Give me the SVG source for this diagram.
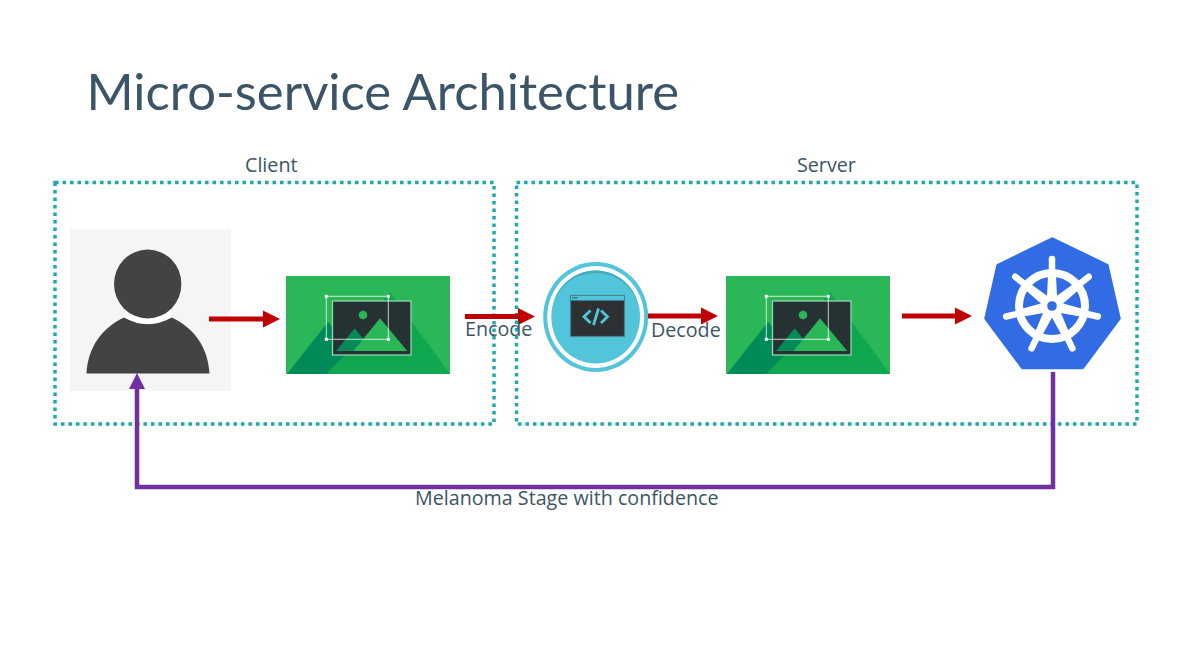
<svg xmlns="http://www.w3.org/2000/svg" xmlns:xlink="http://www.w3.org/1999/xlink" width="1188" height="656" viewBox="0 0 1188 656">
<style>
.t{font-family:"Open Sans","Liberation Sans",sans-serif;font-size:19.700px;fill:#3b5566}
.title{font-family:Lato,"Liberation Sans",sans-serif;font-size:50.800px;fill:#3b5566}
.box{fill:none;stroke:#1fa8b3;stroke-width:3.5;stroke-dasharray:3.6 3.9}
.red{stroke:#c00000;stroke-width:5;fill:none}
.pur{stroke:#7030a0;stroke-width:4.5;fill:none}
</style>
<defs>
<marker id="ar" markerUnits="userSpaceOnUse" markerWidth="17" markerHeight="18" refX="0" refY="9" orient="auto"><path d="M0 0.5L17 9L0 17.5Z" fill="#c00000"/></marker>
<marker id="ap" markerUnits="userSpaceOnUse" markerWidth="17" markerHeight="18" refX="0" refY="9" orient="auto"><path d="M0 1L16 9L0 17Z" fill="#7030a0"/></marker>
<g id="pic">
<rect x="286" y="276" width="164" height="98" fill="#2bb658"/>
<path d="M326 374L390 292L450 374Z" fill="#0fa750"/>
<path d="M287 374L328 322L373 374Z" fill="#008a58"/>
<path d="M326 374L370 330L390 374Z" fill="#0fa750"/>
<rect x="332.500" y="301" width="78.500" height="54" fill="#263133" stroke="#8fd8ae" stroke-width="1.300"/>
<circle cx="363" cy="315" r="4.300" fill="#2bb658"/>
<path d="M336 351L354.700 328.300L373 351Z" fill="#008a58"/>
<path d="M353.300 351L380 318.300L407.300 351Z" fill="#2bb658"/>
<rect x="326.300" y="296.300" width="62" height="43" fill="none" stroke="#fff" stroke-opacity=".75" stroke-width="1"/>
<g fill="#fff"><rect x="324.800" y="294.800" width="3" height="3"/><rect x="386.800" y="294.800" width="3" height="3"/><rect x="324.800" y="337.800" width="3" height="3"/><rect x="386.800" y="337.800" width="3" height="3"/></g>
</g>
<g id="spoke"><line x1="1052" y1="306" x2="1052" y2="259" stroke="#fff" stroke-width="6.500" stroke-linecap="round"/><path d="M1046.500 306L1048 276H1056L1057.500 306Z" fill="#fff"/></g>
</defs>
<text class="title" x="86.500" y="110">Micro-service Architecture</text>
<g id="client"><rect class="box" x="55" y="182.500" width="439" height="241.500"/><text class="t" x="245" y="172">Client</text></g>
<g id="server"><rect class="box" x="516.500" y="182.500" width="620.500" height="241.500"/><text class="t" x="797" y="172">Server</text></g>
<g id="user">
<rect x="70" y="229" width="161" height="162" fill="#f5f5f5"/>
<path d="M86.500 373.500C88 347 102 328 124 317.500Q147.700 331 171.700 317.500C194 328 208 347 209.500 373.500Z" fill="#434343"/>
<path d="M123 316.500Q147.700 331 172.700 316.500L165 305L130 305Z" fill="#fff"/>
<ellipse cx="147.700" cy="284" rx="33.700" ry="34.500" fill="#434343"/>
</g>
<g id="image-client"><use href="#pic" xlink:href="#pic"/></g>
<g id="encoder">
<ellipse cx="595.700" cy="317" rx="52.500" ry="55" fill="#52c5db"/>
<ellipse cx="595.700" cy="317" rx="48.500" ry="51" fill="#fff"/>
<ellipse cx="595.700" cy="317" rx="44.500" ry="46.500" fill="#52c5db"/>
<path d="M551.200 317A44.500 46.500 0 0 1 640.200 317A44.500 44 0 0 0 551.200 317Z" fill="#47a8bc"/>
<rect x="570.500" y="295.500" width="54" height="41" fill="#2d3133" stroke="#4a8290" stroke-width="1.200"/>
<rect x="571" y="296" width="53" height="4.500" fill="#52c5db"/>
<g fill="#2d3133"><rect x="572.500" y="297" width="1" height="1.500"/><rect x="574.500" y="297" width="1" height="1.500"/><rect x="576.500" y="297" width="1" height="1.500"/></g>
<path d="M590.500 310.500L584 316.700L590.500 323M601 310.500L607.500 316.700L601 323M598.500 308.500L593.500 325" fill="none" stroke="#52c5db" stroke-width="2.800"/>
</g>
<g id="image-server"><use href="#pic" xlink:href="#pic" x="440"/></g>
<g id="kubernetes">
<polygon points="1052.300,239 1107,265.500 1119,318.500 1082.500,367.500 1022.500,367.500 986,318.500 998,265.500" fill="#326ce5" stroke="#326ce5" stroke-width="3.400" stroke-linejoin="round"/>
<circle cx="1052" cy="306" r="33" fill="none" stroke="#fff" stroke-width="8"/>
<use href="#spoke" xlink:href="#spoke"/>
<use href="#spoke" xlink:href="#spoke" transform="rotate(51.430 1052 306)"/>
<use href="#spoke" xlink:href="#spoke" transform="rotate(102.860 1052 306)"/>
<use href="#spoke" xlink:href="#spoke" transform="rotate(154.290 1052 306)"/>
<use href="#spoke" xlink:href="#spoke" transform="rotate(205.710 1052 306)"/>
<use href="#spoke" xlink:href="#spoke" transform="rotate(257.140 1052 306)"/>
<use href="#spoke" xlink:href="#spoke" transform="rotate(308.570 1052 306)"/>
<circle cx="1052" cy="306" r="10" fill="#fff"/>
<circle cx="1052" cy="306" r="4.800" fill="#326ce5"/>
</g>
<g id="connectors">
<line class="red" x1="209" y1="319" x2="263" y2="319" marker-end="url(#ar)"/>
<line class="red" x1="465" y1="316.500" x2="518" y2="316.500" marker-end="url(#ar)"/>
<line class="red" x1="648" y1="316" x2="701" y2="316" marker-end="url(#ar)"/>
<line class="red" x1="902" y1="316" x2="955" y2="316" marker-end="url(#ar)"/>
<path class="pur" d="M1053 372V487H137V389" marker-end="url(#ap)"/>
</g>
<text class="t" x="465" y="336">Encode</text>
<text class="t" x="651" y="337">Decode</text>
<text class="t" x="415" y="505">Melanoma Stage with confidence</text>
</svg>
